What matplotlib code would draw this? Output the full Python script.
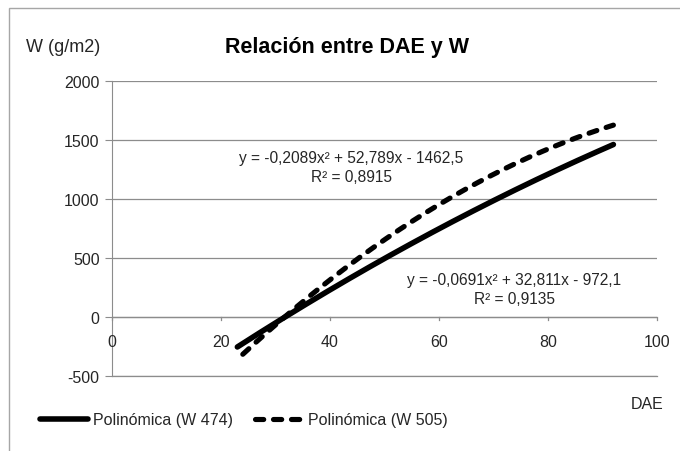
import numpy as np
import matplotlib
matplotlib.use("Agg")
import matplotlib.pyplot as plt
from matplotlib.patches import Rectangle

plt.rcParams['font.family'] = ['Liberation Sans', 'DejaVu Sans']
plt.rcParams['axes.unicode_minus'] = False

# trend lines (polynomial fit coefficients, highest power first)
coef_474 = [-0.0691, 32.811, -972.1]
coef_505 = [-0.2089, 52.789, -1462.5]
r2_474 = 0.9135
r2_505 = 0.8915
xrange_474 = (23, 92)
xrange_505 = (24, 92)
names = ['Polinómica (W 474)', 'Polinómica (W 505)']

xticks = [0, 20, 40, 60, 80, 100]
yticks = [-500, 0, 500, 1000, 1500, 2000]

txt = '#262626'
grid_c = '#8c8c8c'

W, H = 680, 452


def fx(px):
    return px / W


def fy(py):
    return 1 - py / H


def eq_label(coef, r2):
    a, b, c = coef
    s = 'y = {:.4f}x² + {:.3f}x - {:.1f}\nR² = {:.4f}'.format(a, b, -c, r2)
    return s.replace('.', ',')


fig = plt.figure(figsize=(6.8, 4.52), dpi=100)
fig.patches.append(Rectangle((fx(9), -0.2), 1.2, 1.2 - 9 / H, transform=fig.transFigure,
                             fill=False, edgecolor='#a6a6a6', linewidth=1.0))
ax = fig.add_axes([fx(112), fy(377), (657 - 112) / W, (377 - 82) / H])

x1 = np.linspace(*xrange_474, 200)
x2 = np.linspace(*xrange_505, 200)
l1, = ax.plot(x1, np.polyval(coef_474, x1), color='black', lw=4, solid_capstyle='round', zorder=3)
l2, = ax.plot(x2, np.polyval(coef_505, x2), color='black', lw=3.7, dashes=(1.6, 1.9),
              dash_capstyle='round', zorder=3)

ax.set_xlim(0, 100)
ax.set_ylim(-500, 2000)
ax.set_yticks(yticks)
ax.set_xticks([])
ax.grid(axis='y', color=grid_c, lw=0.9)
ax.set_axisbelow(True)
for s in ['top', 'right']:
    ax.spines[s].set_visible(False)
ax.spines['left'].set_color(grid_c)
ax.spines['bottom'].set_color(grid_c)
ax.spines['bottom'].set_linewidth(0.9)
ax.tick_params(axis='y', length=5, color=grid_c, labelcolor=txt, labelsize=11.5, pad=4)
ax.tick_params(axis='x', length=0)

# x axis drawn through y = 0 with downward ticks and labels below
ax.axhline(0, color=grid_c, lw=0.9, zorder=1)
for xv in xticks:
    ax.plot([xv, xv], [0, -25], color=grid_c, lw=0.9, clip_on=False, zorder=1)
    ax.text(xv, -210, str(xv), ha='center', va='center', fontsize=11.5, color=txt)

fig.text(fx(351), fy(168), eq_label(coef_505, r2_505), ha='center', va='center',
         fontsize=11.2, color=txt, linespacing=1.3)
fig.text(fx(514), fy(290), eq_label(coef_474, r2_474), ha='center', va='center',
         fontsize=11.2, color=txt, linespacing=1.3)

fig.text(fx(347), fy(48), 'Relación entre DAE y W', ha='center', va='center',
         fontsize=15.5, fontweight='bold', color='black')
fig.text(fx(26), fy(47), 'W (g/m2)', ha='left', va='center', fontsize=13, color=txt)
fig.text(fx(647), fy(405), 'DAE', ha='center', va='center', fontsize=11.5, color=txt)

fig.legend([l1, l2], names, loc='center left', bbox_to_anchor=(fx(40), fy(421)),
           ncol=2, frameon=False, fontsize=11.5, handlelength=3.0, handletextpad=0.3,
           columnspacing=1.4, labelcolor=txt, borderaxespad=0, borderpad=0)

fig.savefig('out.png', dpi=100)
